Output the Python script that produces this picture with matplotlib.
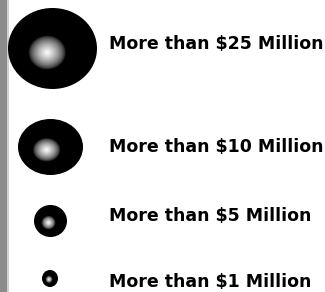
import numpy as np
import matplotlib
matplotlib.use("Agg")
import matplotlib.pyplot as plt
from matplotlib.patches import Ellipse

# legend entries: label, bubble size (px), placement (px)
labels = ["More than $25 Million", "More than $10 Million",
          "More than $5 Million", "More than $1 Million"]
amounts = [25, 10, 5, 1]
widths = [89, 65, 33, 16]
heights = [81, 56, 32, 17]
cx = [52.5, 50.5, 50.5, 50]
cy = [48.5, 147, 221, 278.5]
baselines = [49, 152.5, 221, 287]

fig = plt.figure(figsize=(3.25, 2.92), dpi=100)
ax = fig.add_axes([0, 0, 1, 1])
ax.set_xlim(0, 325)
ax.set_ylim(292, 0)
ax.axis("off")

# scanned edge on the left
ax.axvspan(0, 7, color="#8c8c8c", lw=0)
ax.axvspan(7, 9, color="#cfcfcf", lw=0)

for w, h, x, y in zip(widths, heights, cx, cy):
    n = 200
    gx, gy = np.meshgrid(np.linspace(-1, 1, n), np.linspace(-1, 1, n))
    # highlight slightly lower-left of centre
    hx, hy = -0.12, 0.1
    d = np.hypot(gx - hx, gy - hy)
    val = np.clip(1 - d / 0.42, 0, 1) ** 0.6
    img = np.dstack([val, val, val])
    im = ax.imshow(img, extent=[x - w / 2, x + w / 2, y + h / 2, y - h / 2],
                   interpolation="bilinear", zorder=2)
    e = Ellipse((x, y), w, h, facecolor="none", edgecolor="none")
    ax.add_patch(e)
    im.set_clip_path(e)

for lab, b in zip(labels, baselines):
    ax.text(109, b, lab, fontsize=12.5, fontweight="bold",
            family="DejaVu Sans", va="baseline", ha="left", color="black")

ax.set_xlim(0, 325)
ax.set_ylim(292, 0)
fig.savefig("out.png", dpi=100)
